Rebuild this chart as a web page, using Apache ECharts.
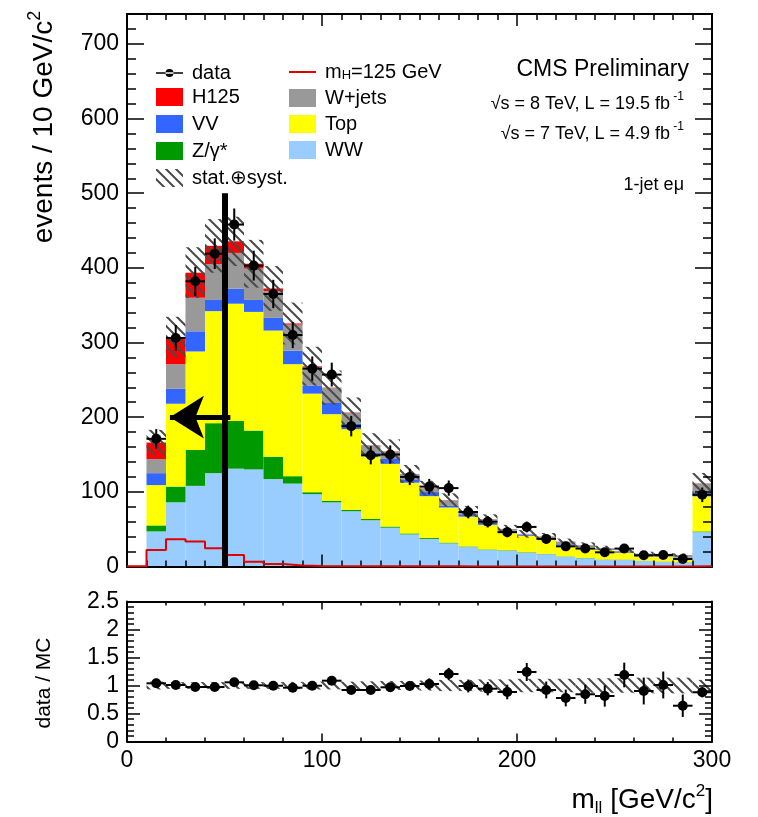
<!DOCTYPE html>
<html>
<head>
<meta charset="utf-8">
<script src="https://cdn.jsdelivr.net/npm/echarts@6/dist/echarts.min.js"></script>
<style>
  html, body { margin: 0; padding: 0; background: #fff; }
  #main { width: 758px; height: 817px; }
</style>
</head>
<body>
<div id="main"></div>
<script>
  // lower edges of the 10 GeV bins, last bin holds the overflow
  var binLo = [10,20,30,40,50,60,70,80,90,100,110,120,130,140,150,160,170,180,190,200,210,220,230,240,250,260,270,280,290];
  var binWidth = 10;

  // stacked backgrounds, bottom to top
  var ww    = [47,86,108,125,131,130,117,111,97,86,74,62,52,43,37,31,26,22,21,18.5,16.5,13,11,9,9,7.5,6.5,5.5,46];
  var zg    = [8,21,48,67,64,52,30,10,2.5,2,2,1.7,1.5,1.3,1.2,1,0.8,0.8,0.7,0.6,0.5,0.5,0.5,0.4,0.4,0.3,0.3,0.3,1];
  var ttbar = [54,111,132,150,157,159,169,150,132,116,108,84,84,68,56,47,40,33,25,22,20,15,15,13,9,5.5,6.5,5.2,47];
  var vv    = [16,20,27,15,20,16,17,18,11,15,7,4.5,6.5,4.5,5.5,2.2,3.2,3,1.5,1.5,1.3,1.3,1.2,1.1,1,0.9,0.8,0.8,4.5];
  var wjets = [19,33,45,48,48,42,36,35,25,20,15,10,10,7,5,7.5,3.5,4.5,2,1,2,3.5,1,1,1.5,3,1.5,3.5,12.5];
  var h125  = [22,36.5,33.5,24.5,15.5,6.5,3.4,1.5,0.8,0.5,0.4,0.3,0.3,0.2,0.2,0.2,0.1,0.1,0.1,0.1,0.1,0.1,0.1,0.1,0.1,0.1,0.1,0.1,0.3];
  var systErr = [17,27,34,36,33,32,30,28,26,23,20,16,16,12,10,9,7.5,6.5,5.5,5,4.5,4,3.5,3.2,3,2.5,2.3,2.2,14];

  // observed events
  var dataVal = [171,306,382,419,458,403,365,310,265,257,188,149,150,120,107,105,73,60,46,53,37,27,24,19,24,15,15.5,10,96];
  var dataErr = [13,17.5,19.5,20.5,21.5,20,19,17.5,16.3,16,13.7,12.2,12.2,11,10.3,10.2,8.5,7.7,6.8,7.3,6.1,5.2,4.9,4.4,4.9,3.9,3.9,3.2,9.8];

  // data / MC panel
  var ratioVal  = [1.039,1.009,0.973,0.973,1.057,1.004,0.996,0.961,0.996,1.086,0.92,0.92,0.968,0.991,1.027,1.205,0.991,0.943,0.884,1.241,0.92,0.777,0.843,0.813,1.188,0.902,1.009,0.639,0.879];
  var ratioErr  = [0.08,0.058,0.05,0.048,0.05,0.05,0.052,0.055,0.061,0.068,0.067,0.075,0.079,0.09,0.1,0.11,0.115,0.12,0.13,0.16,0.15,0.15,0.17,0.19,0.22,0.24,0.24,0.2,0.09];
  var ratioBand = [0.07,0.06,0.06,0.06,0.06,0.06,0.06,0.065,0.07,0.07,0.07,0.075,0.08,0.08,0.09,0.1,0.1,0.11,0.11,0.12,0.12,0.12,0.13,0.13,0.13,0.14,0.14,0.14,0.1];

  var cutValue = 50;      // vertical selection line
  var arrowLevel = 200;

  var FONT = '"Liberation Sans", Arial, Helvetica, sans-serif';

  function makeHatch() {
    var c = document.createElement('canvas');
    c.width = 10; c.height = 10;
    var g = c.getContext('2d');
    g.strokeStyle = '#4a4a4a';
    g.lineWidth = 2;
    g.beginPath();
    g.moveTo(0, 0); g.lineTo(10, 10);
    g.moveTo(-5, 5); g.lineTo(5, 15);
    g.moveTo(5, -5); g.lineTo(15, 5);
    g.stroke();
    return c;
  }
  var hatch = { image: makeHatch(), repeat: 'repeat' };

  // cumulative stack
  var layers = [
    { name: 'WW', vals: ww, color: '#99ccff' },
    { name: 'Z/γ*', vals: zg, color: '#009900' },
    { name: 'Top', vals: ttbar, color: '#ffff00' },
    { name: 'VV', vals: vv, color: '#3366ff' },
    { name: 'W+jets', vals: wjets, color: '#999999' },
    { name: 'H125', vals: h125, color: '#ff0000' }
  ];
  var base = binLo.map(function () { return 0; });
  layers.forEach(function (l) {
    l.rows = binLo.map(function (x, i) {
      var r = [x, x + binWidth, base[i], base[i] + l.vals[i]];
      base[i] += l.vals[i];
      return r;
    });
  });
  var total = base.slice();

  function renderBin(params, api) {
    var p0 = api.coord([api.value(0), api.value(3)]);
    var p1 = api.coord([api.value(1), api.value(2)]);
    return {
      type: 'rect',
      shape: { x: p0[0], y: p0[1], width: p1[0] - p0[0], height: p1[1] - p0[1] },
      style: api.style()
    };
  }

  function renderHatch(params, api) {
    var p0 = api.coord([api.value(0), api.value(3)]);
    var p1 = api.coord([api.value(1), api.value(2)]);
    return {
      type: 'rect',
      shape: { x: p0[0], y: p0[1], width: p1[0] - p0[0], height: p1[1] - p0[1] },
      style: { fill: hatch }
    };
  }

  function renderPoint(params, api) {
    var x0 = api.value(0), x1 = api.value(1), y = api.value(2), e = api.value(3);
    var xc = (x0 + x1) / 2;
    var c = api.coord([xc, y]);
    var l = api.coord([x0, y]), r = api.coord([x1, y]);
    var lo = api.coord([xc, y - e]), hi = api.coord([xc, y + e]);
    var st = { stroke: '#000', lineWidth: 2 };
    return {
      type: 'group',
      children: [
        { type: 'line', shape: { x1: l[0], y1: l[1], x2: r[0], y2: r[1] }, style: st },
        { type: 'line', shape: { x1: lo[0], y1: lo[1], x2: hi[0], y2: hi[1] }, style: st },
        { type: 'circle', shape: { cx: c[0], cy: c[1], r: 5 }, style: { fill: '#000' } }
      ]
    };
  }

  function xAx(grid, pos, labels, tickLen, minorSplit, minorLen) {
    return {
      type: 'value', gridIndex: grid, position: pos, min: 0, max: 300, interval: 100, z: 10,
      axisLine: { show: true, onZero: false, lineStyle: { color: '#000', width: 2 } },
      axisTick: { show: true, inside: true, length: tickLen, lineStyle: { color: '#000', width: 1.5 } },
      minorTick: { show: true, splitNumber: minorSplit, length: minorLen, lineStyle: { color: '#000', width: 1.5 } },
      axisLabel: { show: labels, color: '#000', fontSize: 23, fontFamily: FONT, margin: 8 },
      splitLine: { show: false }
    };
  }

  function yAx(grid, pos, max, interval, labels, tickLen, minor, minorLen) {
    return {
      type: 'value', gridIndex: grid, position: pos, min: 0, max: max, interval: interval, z: 10,
      axisLine: { show: true, onZero: false, lineStyle: { color: '#000', width: 2 } },
      axisTick: { show: true, inside: true, length: tickLen, lineStyle: { color: '#000', width: 1.5 } },
      minorTick: { show: minor > 0, splitNumber: minor || 5, length: minorLen, lineStyle: { color: '#000', width: 1.5 } },
      axisLabel: { show: labels, color: '#000', fontSize: 23, fontFamily: FONT, margin: 8, showMaxLabel: max !== 740 },
      splitLine: { show: false }
    };
  }

  var cutLines = [
    [{ coord: [cutValue, 0] }, { coord: [cutValue, 500] }],
    [{ coord: [cutValue + 3, arrowLevel], lineStyle: { width: 5 } },
     { coord: [22, arrowLevel], symbol: 'arrow', symbolSize: [32, 34], lineStyle: { width: 5 } }]
  ];

  var series = layers.map(function (l) {
    return {
      name: l.name, type: 'custom', xAxisIndex: 0, yAxisIndex: 0,
      renderItem: renderBin, itemStyle: { color: l.color },
      encode: { x: [0, 1], y: [2, 3] }, data: l.rows, z: 2
    };
  });

  series.push({
    name: 'stat.⊕syst.', type: 'custom', xAxisIndex: 0, yAxisIndex: 0,
    renderItem: renderHatch, itemStyle: { color: hatch },
    encode: { x: [0, 1], y: [2, 3] }, z: 3,
    data: binLo.map(function (x, i) { return [x, x + binWidth, total[i] - systErr[i], total[i] + systErr[i]]; })
  });

  series.push({
    name: 'mH', type: 'line', xAxisIndex: 0, yAxisIndex: 0, step: 'end', symbol: 'none', z: 11,
    lineStyle: { color: '#e00000', width: 2 }, itemStyle: { color: '#e00000' },
    data: [[0, 0.4]].concat(binLo.map(function (x, i) { return [x, h125[i]]; }), [[300, h125[h125.length - 1]]])
  });

  series.push({
    name: 'data', type: 'custom', xAxisIndex: 0, yAxisIndex: 0, z: 6,
    renderItem: renderPoint, itemStyle: { color: '#000' },
    encode: { x: [0, 1], y: 2 },
    data: binLo.map(function (x, i) { return [x, x + binWidth, dataVal[i], dataErr[i]]; }),
    markLine: {
      silent: true, animation: false, z: 20,
      symbol: ['none', 'none'],
      label: { show: false },
      lineStyle: { color: '#000', width: 6, type: 'solid', cap: 'butt' },
      emphasis: { disabled: true },
      data: cutLines
    }
  });

  series.push({
    name: 'ratioBand', type: 'custom', xAxisIndex: 2, yAxisIndex: 4, z: 3,
    renderItem: renderHatch, encode: { x: [0, 1], y: [2, 3] },
    data: binLo.map(function (x, i) { return [x, x + binWidth, 1 - ratioBand[i], 1 + ratioBand[i]]; })
  });

  series.push({
    name: 'ratio', type: 'custom', xAxisIndex: 2, yAxisIndex: 4, z: 6,
    renderItem: renderPoint, encode: { x: [0, 1], y: 2 },
    data: binLo.map(function (x, i) { return [x, x + binWidth, ratioVal[i], ratioErr[i]]; })
  });

  var legendText = {
    color: '#000', fontSize: 20, fontFamily: FONT, lineHeight: 20, padding: [0, 0, 0, 4],
    rich: {
      t: { fontSize: 20, fontFamily: FONT, color: '#000', lineHeight: 20, verticalAlign: 'middle' },
      s: { fontSize: 13, fontFamily: FONT, color: '#000', lineHeight: 20, verticalAlign: 'bottom' }
    }
  };

  var option = {
    animation: false,
    backgroundColor: '#fff',
    grid: [
      { left: 127, right: 46, top: 14, height: 552.5 },
      { left: 127, right: 46, top: 601.5, height: 140 }
    ],
    xAxis: [
      xAx(0, 'bottom', false, 12, 10, 6),
      xAx(0, 'top', false, 12, 10, 6),
      xAx(1, 'bottom', true, 8, 5, 4),
      xAx(1, 'top', false, 8, 5, 4)
    ],
    yAxis: [
      yAx(0, 'left', 740, 100, true, 17, 0, 0),
      yAx(0, 'left', 740, 20, false, 9, 0, 0),
      yAx(0, 'right', 740, 100, false, 17, 0, 0),
      yAx(0, 'right', 740, 20, false, 9, 0, 0),
      yAx(1, 'left', 2.5, 0.5, true, 13, 5, 7),
      yAx(1, 'right', 2.5, 0.5, false, 13, 5, 7)
    ],
    legend: [
      {
        left: 156, top: 63, padding: 0, orient: 'vertical', itemWidth: 27, itemHeight: 8, itemGap: 7,
        textStyle: legendText, selectedMode: false,
        data: [{ name: 'data', icon: 'path://M0,3.3h27v1.4h-27z M9.5,4a4,4 0 1,0 8,0a4,4 0 1,0 -8,0z' }]
      },
      {
        left: 156, top: 87, padding: 0, orient: 'vertical', itemWidth: 27, itemHeight: 18, itemGap: 7,
        textStyle: legendText, selectedMode: false,
        data: [
          { name: 'H125', icon: 'rect' },
          { name: 'VV', icon: 'rect' },
          { name: 'Z/γ*', icon: 'rect' },
          { name: 'stat.⊕syst.', icon: 'rect' }
        ]
      },
      {
        left: 289, top: 62, padding: 0, orient: 'vertical', itemWidth: 27, itemHeight: 18, itemGap: 6,
        textStyle: legendText, selectedMode: false,
        formatter: function (name) {
          return name === 'mH' ? '{t|m}{s|H}{t|=125 GeV}' : name;
        },
        data: [
          { name: 'mH', icon: 'path://M0,0h27v2h-27z' },
          { name: 'W+jets', icon: 'rect' },
          { name: 'Top', icon: 'rect' },
          { name: 'WW', icon: 'rect' }
        ]
      }
    ],
    graphic: [
      {
        type: 'text', x: 42, y: 127, rotation: Math.PI / 2,
        style: {
          text: '{a|events / 10 GeV/c}{b|2}', align: 'center', verticalAlign: 'middle',
          rich: {
            a: { fontSize: 28, fontFamily: FONT, fill: '#000', lineHeight: 32, verticalAlign: 'bottom' },
            b: { fontSize: 18, fontFamily: FONT, fill: '#000', lineHeight: 32, verticalAlign: 'top' }
          }
        }
      },
      {
        type: 'text', x: 44, y: 683, rotation: Math.PI / 2,
        style: { text: 'data / MC', align: 'center', verticalAlign: 'middle', fontSize: 21, fontFamily: FONT, fill: '#000' }
      },
      {
        type: 'text', x: 713, y: 800,
        style: {
          text: '{a|m}{s|ll}{a| [GeV/c}{p|2}{a|]}', align: 'right', verticalAlign: 'middle',
          rich: {
            a: { fontSize: 28, fontFamily: FONT, fill: '#000', lineHeight: 34, verticalAlign: 'middle' },
            s: { fontSize: 17, fontFamily: FONT, fill: '#000', lineHeight: 34, verticalAlign: 'bottom' },
            p: { fontSize: 17, fontFamily: FONT, fill: '#000', lineHeight: 34, verticalAlign: 'top' }
          }
        }
      },
      {
        type: 'text', x: 689, y: 70,
        style: { text: 'CMS Preliminary', align: 'right', verticalAlign: 'middle', fontSize: 23, fontFamily: FONT, fill: '#000' }
      },
      {
        type: 'text', x: 684, y: 102,
        style: {
          text: '{a|√s = 8 TeV, L = 19.5 fb}{b| -1}', align: 'right', verticalAlign: 'middle',
          rich: {
            a: { fontSize: 18, fontFamily: FONT, fill: '#000', lineHeight: 22, verticalAlign: 'bottom' },
            b: { fontSize: 12, fontFamily: FONT, fill: '#000', lineHeight: 22, verticalAlign: 'top' }
          }
        }
      },
      {
        type: 'text', x: 684, y: 132,
        style: {
          text: '{a|√s = 7 TeV, L = 4.9 fb}{b| -1}', align: 'right', verticalAlign: 'middle',
          rich: {
            a: { fontSize: 18, fontFamily: FONT, fill: '#000', lineHeight: 22, verticalAlign: 'bottom' },
            b: { fontSize: 12, fontFamily: FONT, fill: '#000', lineHeight: 22, verticalAlign: 'top' }
          }
        }
      },
      {
        type: 'text', x: 684, y: 185,
        style: { text: '1-jet eμ', align: 'right', verticalAlign: 'middle', fontSize: 18, fontFamily: FONT, fill: '#000' }
      }
    ],
    series: series
  };

  var myChart = echarts.init(document.getElementById('main'));
  myChart.setOption(option);
</script>
</body>
</html>
